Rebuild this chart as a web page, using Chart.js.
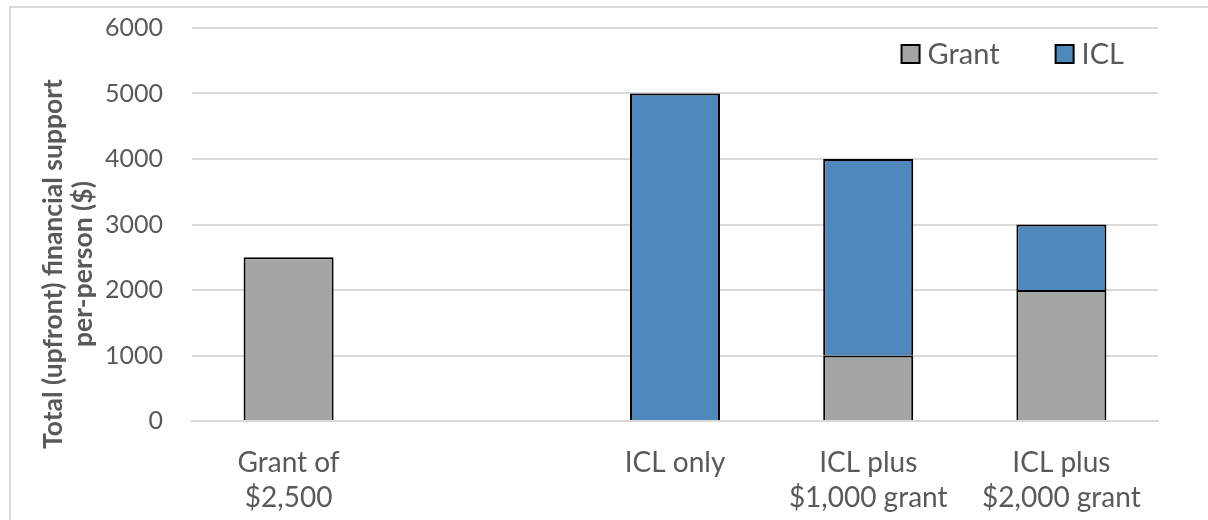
<!DOCTYPE html>
<html>
<head>
<meta charset="utf-8">
<script src="https://cdn.jsdelivr.net/npm/chart.js@4.4.1/dist/chart.umd.min.js"></script>
<style>
  html, body { margin: 0; padding: 0; background: #ffffff; }
  #wrap { width: 1208px; height: 520px; position: relative; }
</style>
</head>
<body>
<div id="wrap"><canvas id="chart" width="1208" height="520"></canvas></div>
<script>
// Support options, grant and income-contingent loan (ICL) components per person
const categories = [
  ['Grant of', '$2,500'],
  '',
  'ICL only',
  ['ICL plus', '$1,000 grant'],
  ['ICL plus', '$2,000 grant']
];
const grantValues = [2500, null, null, 1000, 2000];
const iclValues = [null, null, 5000, 3000, 1000];
const seriesNames = ['Grant', 'ICL'];
const yTicks = [0, 1000, 2000, 3000, 4000, 5000, 6000];
const yTitleLines = ['Total (upfront) financial support', 'per-person ($)'];

const FONT = "Lato, 'Open Sans', sans-serif";
const TEXT = '#595959';
const GRID = '#D9D9D9';

// Outer frame lines (top and left edges)
const framePlugin = {
  id: 'frame',
  beforeDraw(chart) {
    const ctx = chart.ctx;
    ctx.save();
    ctx.strokeStyle = GRID;
    ctx.lineWidth = 2;
    ctx.beginPath();
    ctx.moveTo(10, chart.height);
    ctx.lineTo(10, 7);
    ctx.lineTo(chart.width, 7);
    ctx.stroke();
    ctx.restore();
  }
};

// Legend drawn inside the plot area, top right
const insideLegend = {
  id: 'insideLegend',
  afterDraw(chart) {
    const ctx = chart.ctx;
    const area = chart.chartArea;
    const box = 18, gapText = 8, gapItem = 56;
    ctx.save();
    ctx.font = '29px ' + FONT;
    const items = chart.data.datasets.map(ds => ({
      label: ds.label, color: ds.backgroundColor, w: ctx.measureText(ds.label).width
    }));
    let total = 0;
    items.forEach((it, i) => { total += box + gapText + it.w + (i < items.length - 1 ? gapItem : 0); });
    let x = area.right - 34 - total;
    const cy = area.top + 26;
    items.forEach(it => {
      ctx.fillStyle = it.color;
      ctx.fillRect(x, cy - box / 2, box, box);
      ctx.strokeStyle = '#000000';
      ctx.lineWidth = 2;
      ctx.strokeRect(x, cy - box / 2, box, box);
      ctx.fillStyle = TEXT;
      ctx.textAlign = 'left';
      ctx.textBaseline = 'middle';
      ctx.fillText(it.label, x + box + gapText, cy + 1);
      x += box + gapText + it.w + gapItem;
    });
    ctx.restore();
  }
};

// Rotated two-line y-axis title, centred on the canvas height
const yTitlePlugin = {
  id: 'yTitle',
  afterDraw(chart) {
    const ctx = chart.ctx;
    ctx.save();
    ctx.translate(62, 264);
    ctx.rotate(-Math.PI / 2);
    ctx.font = 'bold 26.5px ' + FONT;
    ctx.fillStyle = TEXT;
    ctx.textAlign = 'center';
    ctx.textBaseline = 'alphabetic';
    yTitleLines.forEach((line, i) => ctx.fillText(line, 0, i * 30));
    ctx.restore();
  }
};

new Chart(document.getElementById('chart'), {
  type: 'bar',
  data: {
    labels: categories,
    datasets: [
      {
        label: seriesNames[0],
        data: grantValues,
        backgroundColor: '#A5A5A5',
        borderColor: '#000000',
        borderWidth: 2
      },
      {
        label: seriesNames[1],
        data: iclValues,
        backgroundColor: '#4F88BD',
        borderColor: '#000000',
        borderWidth: 2
      }
    ]
  },
  options: {
    responsive: false,
    animation: false,
    devicePixelRatio: 1,
    layout: { padding: { left: 0, top: 28, right: 50, bottom: 0 } },
    datasets: { bar: { barPercentage: 0.466, categoryPercentage: 1 } },
    plugins: {
      legend: { display: false },
      tooltip: { enabled: false }
    },
    scales: {
      x: {
        stacked: true,
        grid: { display: false, drawTicks: false },
        border: { display: true, color: GRID, width: 2 },
        ticks: {
          color: TEXT,
          font: { family: FONT, size: 28, lineHeight: 1.25 },
          padding: 24,
          maxRotation: 0,
          autoSkip: false
        },
        afterFit(scale) { scale.height = 99; }
      },
      y: {
        stacked: true,
        min: 0,
        max: 6000,
        afterBuildTicks(scale) { scale.ticks = yTicks.map(v => ({ value: v })); },
        grid: { color: GRID, lineWidth: 2, drawTicks: false },
        border: { display: false },
        ticks: {
          color: TEXT,
          font: { family: FONT, size: 25 },
          padding: 29,
          callback: v => String(v)
        },
        afterFit(scale) {
          scale.width = 192;
          scale.paddingTop = 0;
          scale.paddingBottom = 0;
        }
      }
    }
  },
  plugins: [framePlugin, insideLegend, yTitlePlugin]
});
</script>
</body>
</html>
